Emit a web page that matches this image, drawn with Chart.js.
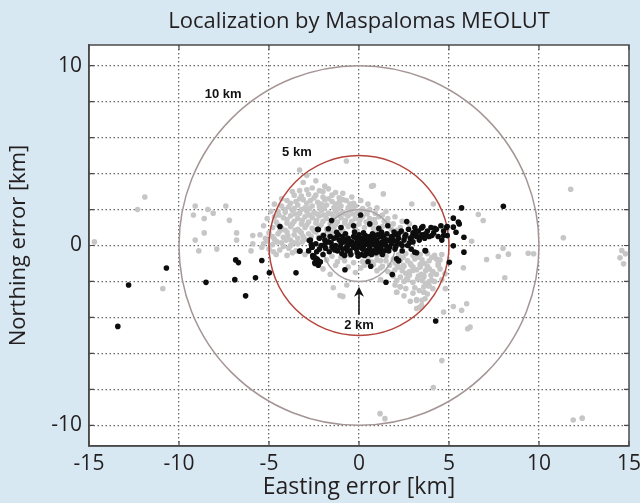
<!DOCTYPE html>
<html>
<head>
<meta charset="utf-8">
<script src="https://cdn.jsdelivr.net/npm/chart.js@4.4.1/dist/chart.umd.min.js"></script>
<style>
  html, body { margin: 0; padding: 0; background: #d8e8f2; }
  #wrap { width: 640px; height: 503px; }
</style>
</head>
<body>
<div id="wrap"><canvas id="chart" width="640" height="503"></canvas></div>
<script>
// axis ticks
var xTicks = [-15, -10, -5, 0, 5, 10, 15];
var yTicks = [-10, -8, -6, -4, -2, 0, 2, 4, 6, 8, 10];
var yLabelled = [-10, 0, 10];

// reference circles (km)
var circleRadii = [10, 5, 2];
var circleLabels = ['10 km', '5 km', '2 km'];
var circleLabelX = [-7.55, -3.45, 0];
var circleLabelY = [8.4, 5.15, -4.45];

// all positions from Maspalomas MEOLUT, [easting, northing] km
var allFixes = [
  [-11.9,2.7],[-12.3,2.0],[-14.7,0.2],[-10.9,-2.4],[-9.1,2.2],[-9.2,1.7],[-8.6,1.5],[-8.4,2.0],[-8.1,1.8],
  [-7.4,2.2],[-7.2,1.4],[-8.6,0.7],[-9.1,0.3],[-8.9,-0.3],[-7.9,-0.2],[-6.8,0.7],[-6.8,0.3],[-5.9,0.55],
  [-5.9,0.1],[-6.0,-0.3],[11.76,3.13],[11.35,0.43],[6.63,1.72],[6.9,1.39],[6.26,0.24],[7.09,-0.78],
  [7.74,-0.61],[8.3,-0.48],[8.0,-0.15],[9.4,-0.43],[9.7,-0.46],[5.8,-1.24],[8.1,-1.8],[5.98,-3.24],
  [6.17,-4.54],[6.04,-4.63],[4.7,-3.7],[14.6,-0.28],[14.5,-0.68],[14.7,-1.02],[14.8,-0.46],
  [11.9,-9.7],[12.4,-9.6],[1.17,-9.35],[1.44,-9.63],[4.13,-7.9],[4.6,-6.4],[-1.43,-2.35],[-0.9,-2.83],
  [3.2,-3.5],[3.48,-3.33],[3.67,-2.96],[3.6,-2.6],[2.28,-2.3],[2.46,-1.1],[3.0,-1.39],[3.4,-1.2],
  [3.6,-1.67],[4.04,-1.94],[4.4,-1.11],[4.5,-1.3],[3.85,-2.22],[2.09,-2.6],[3.2,-3.06],[3.36,-3.43],
  [5.24,-3.39],[5.7,-3.6],[4.78,-1.57],[2.65,-1.85],[-1.06,-2.78],[-0.68,-2.2],[1.35,2.87],[0.8,3.33],
  [2.93,2.31],[4.13,2.31],[-0.7,4.7],[0.7,3.3],[-3.3,4.2],[-2.9,3.9],[-2.4,3.6],[-1.9,3.3],[-3.1,3.5],
  [-2.9,3.1],[-2.6,3.2],[-2.2,3.05],[-1.7,3.15],
  [-3.6,2.8],[-3.2,2.75],[-2.8,2.85],[-2.4,2.8],[-2.0,2.7],[-1.5,2.8],[-1.1,2.65],
  [-4.0,2.5],[-3.5,2.45],[-3.1,2.55],[-2.7,2.5],[-2.3,2.4],[-1.9,2.55],[-1.5,2.45],[-1.1,2.4],[-0.7,2.5],[-0.3,2.35],
  [-4.3,2.2],[-3.9,2.15],[-3.4,2.25],[-3.0,2.1],[-2.6,2.2],[-2.2,2.15],[-1.8,2.25],[-1.4,2.1],[-1.0,2.2],[-0.6,2.1],[-0.2,2.2],[0.2,2.05],
  [-4.5,1.9],[-4.1,1.85],[-3.7,1.95],[-3.3,1.8],[-2.9,1.9],[-2.5,1.85],[-2.1,1.95],[-1.7,1.8],[-1.3,1.9],[-0.9,1.85],[-0.5,1.95],[-0.1,1.8],[0.4,1.9],[0.9,1.8],
  [-4.7,1.6],[-4.2,1.55],[-3.8,1.65],[-3.4,1.5],[-3.0,1.6],[-2.6,1.55],[-2.2,1.65],[-1.8,1.5],[-1.4,1.6],[-1.0,1.55],[-0.6,1.65],[-0.2,1.5],[0.2,1.6],[0.6,1.5],[1.1,1.6],[1.6,1.5],
  [-4.6,1.3],[-4.0,1.25],[-3.6,1.35],[-3.2,1.2],[-2.8,1.3],[-2.4,1.25],[-2.0,1.35],[-1.6,1.2],[-1.2,1.3],[-0.8,1.25],[-0.4,1.35],[0.0,1.2],[0.4,1.3],[0.9,1.25],[1.4,1.35],[1.9,1.2],
  [-4.8,1.0],[-4.3,0.95],[-3.8,1.05],[-3.4,0.9],[-3.0,1.0],[-2.6,0.95],[-2.2,1.05],[-1.8,0.9],[-1.4,1.0],[-1.0,0.95],[-0.6,1.05],[-0.2,0.9],[0.3,1.0],[0.8,0.95],[1.3,1.05],[1.8,0.9],[2.3,1.0],
  [-5.0,0.7],[-4.5,0.65],[-4.0,0.75],[-3.6,0.6],[-3.2,0.7],[-2.8,0.65],[-2.4,0.75],[-2.0,0.6],[-1.5,0.7],[1.0,0.7],[2.5,0.65],
  [-5.2,0.4],[-4.7,0.35],[-4.2,0.45],[-3.8,0.3],[-3.4,0.4],[-3.0,0.35],
  [-5.3,0.1],[-4.8,0.05],[-4.3,0.15],[-3.8,0.0],[-3.4,0.1],
  [-5.0,-0.2],[-4.4,-0.25],[-3.9,-0.15],[-3.5,-0.3],[-4.6,-0.5],[-4.0,-0.55],[-3.0,-0.5],
  [-3.8,2.35],[-3.3,2.6],[-2.9,2.35],[-2.5,2.65],[-2.1,2.3],[-1.7,2.6],[-1.3,2.3],[-0.9,2.55],[-0.5,2.3],
  [-4.1,2.0],[-3.6,2.05],[-3.2,2.0],[-2.75,2.05],[-2.35,1.75],[-1.95,2.05],[-1.55,1.75],[-1.15,2.05],[-0.75,1.75],[-0.35,2.05],[0.1,1.95],
  [-4.45,1.7],[-4.0,1.45],[-3.55,1.75],[-3.15,1.4],[-2.75,1.7],[-2.35,1.4],[-1.95,1.7],[-1.55,1.4],[-1.15,1.75],[-0.75,1.4],[-0.35,1.75],[0.05,1.4],[0.45,1.75],[0.85,1.45],[1.3,1.7],
  [-4.5,1.15],[-4.1,0.85],[-3.7,1.2],[-3.3,0.8],[-2.9,1.15],[-2.5,0.8],[-2.1,1.15],[-1.7,0.8],[-1.3,1.15],[-0.9,0.8],[-0.5,1.15],[-0.1,0.75],[0.6,1.15],[1.1,0.8],[1.6,1.25],[2.1,0.85],
  [-4.8,0.5],[-4.4,0.8],[-3.95,0.55],[-3.55,0.85],[-3.1,0.5],[-2.65,0.5],[-2.25,0.45],[-1.75,0.5],[-5.1,0.25],[-4.55,0.2],[-4.05,0.3],[-3.6,0.15],[-3.15,0.2],
  [-4.75,-0.35],[-4.2,-0.05],[-3.7,-0.4],[-5.4,-0.1],[-5.5,0.6],[-5.3,1.1],[-5.1,1.5],
  [-3.7,3.0],[-3.3,3.05],[-2.0,3.0],[-1.3,2.95],[-0.9,2.9],[-0.4,2.7],[0.1,2.5],[0.5,2.3],[-4.3,2.6],[-4.7,2.3],[-4.9,1.9],
  [0.6,2.0],[1.0,2.1],[1.5,1.9],[2.0,1.6],[2.4,1.35],[2.8,1.2],
  [2.2,-0.5],[2.6,-0.45],[3.0,-0.55],[3.4,-0.5],[3.8,-0.45],[4.2,-0.55],[4.6,-0.5],
  [1.0,-0.8],[1.5,-0.85],[1.9,-0.75],[2.3,-0.8],[2.7,-0.85],[3.1,-0.75],[3.5,-0.8],[3.9,-0.85],[4.3,-0.75],
  [0.3,-1.1],[0.8,-1.05],[1.3,-1.15],[1.7,-1.1],[2.1,-1.05],[2.5,-1.15],[2.9,-1.1],[3.4,-1.05],[3.8,-1.15],[4.4,-1.0],
  [1.0,-1.4],[1.6,-1.45],[2.0,-1.35],[2.4,-1.4],[2.8,-1.45],[3.2,-1.35],[3.7,-1.4],[4.1,-1.45],
  [1.9,-1.7],[2.3,-1.75],[2.8,-1.65],[3.3,-1.7],[3.6,-1.75],[4.0,-1.65],
  [2.5,-2.0],[3.0,-2.05],[3.5,-1.95],[3.9,-2.0],[2.3,-2.3],[3.1,-2.35],[3.6,-2.3],[3.9,-2.25],
  [2.1,-2.6],[3.0,-2.65],[3.6,-2.6],[3.2,-3.0],[3.5,-3.05],
  [2.0,-0.95],[2.45,-0.65],[2.85,-1.0],[3.25,-0.65],[3.65,-1.0],[4.05,-0.65],[4.5,-0.8],[1.2,-1.25],
  [1.8,-1.55],[2.2,-1.2],[2.6,-1.55],[3.0,-1.2],[3.45,-1.6],[3.9,-1.3],[4.3,-1.6],[2.1,-1.95],[2.7,-1.9],
  [3.25,-1.85],[3.7,-2.1],[4.2,-2.0],[2.6,-2.4],[3.35,-2.5],[2.5,-2.8],[3.8,-2.7],[4.1,-2.4],[2.85,-3.1],
  [2.0,-2.2],[4.6,-1.9],[4.8,-2.4],
  [-1.5,-0.6],[-1.0,-0.65],[-0.5,-0.55],[0.0,-0.6],[0.5,-0.65],[1.0,-0.55],[1.5,-0.6],
  [-1.2,-0.9],[-0.3,-0.95],[0.2,-0.9],[-2.0,-1.3],[-1.6,-1.6],[-0.2,-1.5],[1.2,-1.9],
  [-1.8,-0.8],[-0.8,-0.85],[0.7,-0.9],[1.2,-0.85],[-1.3,-1.1],[-0.6,-1.2],[0.1,-1.25]
];

// positions with best quality, [easting, northing] km
var goodFixes = [
  [-13.4,-4.5],[-12.8,-2.2],[-10.7,-1.25],[-8.5,-2.05],[-6.85,-0.8],[-6.7,-0.95],[-6.9,-1.9],[-6.3,-2.8],
  [-5.75,-1.8],[-5.4,-0.83],[-4.98,-1.52],[-4.39,1.06],[-3.5,-1.52],[-3.3,-0.32],[-2.26,0.89],[-1.52,1.39],
  [0.09,1.7],[-0.78,-1.35],[0.65,-1.15],[1.5,-2.04],[1.85,-1.61],[2.09,-0.74],[4.26,-4.2],[5.02,-0.93],
  [5.7,2.09],[8.02,2.18],[5.83,-0.37],[5.52,1.3],[5.24,1.02],[5.39,0.74],[5.24,1.52],[5.57,1.2],
  [4.9,1.05],[5.83,0.46],[4.7,0.55],[5.24,-0.02],[2.65,1.33],[3.48,0.98],[3.1,-0.37],[3.67,-0.28],
  [2.19,-0.83],[-2.57,-0.56],[-2.35,-0.74],[-2.17,-0.93],[-2.44,-1.0],[-2.26,-1.1],[-3.28,-0.31],
  [-2.76,0.28],[-2.63,-0.09],[-1.98,0.56],[-1.7,0.93],[-1.24,0.74],
  [-1.7,0.2],[-1.5,-0.1],[-1.4,0.4],[-1.3,0.0],[-1.2,-0.3],[-1.1,0.3],[-1.0,0.1],[-0.9,-0.2],[-0.9,0.5],
  [-0.8,0.2],[-0.7,-0.1],[-0.6,0.4],[-0.6,0.0],[-0.5,-0.3],[-0.4,0.2],[-0.3,0.5],[-0.3,-0.1],[-0.2,0.1],
  [-0.1,-0.4],[-0.1,0.3],[0.0,0.0],[0.0,0.6],[0.1,0.2],[0.2,-0.2],[0.2,0.4],[0.3,0.0],[0.4,0.3],[0.4,-0.3],
  [0.5,0.1],[0.6,0.5],[0.6,-0.1],[0.7,0.2],[0.8,-0.3],[0.8,0.4],[0.9,0.0],[1.0,0.3],[1.0,-0.2],[1.1,0.1],
  [1.2,0.5],[1.2,-0.1],[1.3,0.2],[1.4,-0.3],[1.4,0.4],[1.5,0.0],[1.6,0.3],[1.7,-0.1],[1.8,0.5],[1.8,0.1],
  [1.9,0.3],[2.0,-0.2],[2.0,0.6],[2.1,0.2],
  [-1.6,0.5],[-1.35,-0.25],[-1.15,0.6],[-0.95,-0.45],[-0.75,0.65],[-0.55,0.25],[-0.45,-0.5],[-0.25,0.75],
  [-0.15,-0.2],[0.05,0.35],[0.15,-0.5],[0.25,0.7],[0.35,0.15],[0.45,-0.45],[0.55,0.3],[0.7,-0.5],
  [0.75,0.65],[0.85,0.1],[0.95,-0.4],[1.05,0.6],[1.15,-0.35],[1.25,0.75],[1.35,0.05],[1.55,0.65],
  [1.65,-0.3],[1.75,0.25],[1.95,0.75],[2.05,-0.05],
  [-2.8,-0.3],[-2.7,0.3],[-2.6,-0.1],[-2.5,-0.6],[-2.4,0.1],[-2.3,-0.8],[-2.2,0.4],[-2.2,-0.2],[-2.1,0.0],
  [-2.0,-0.5],[-1.9,0.3],[-1.85,-0.15],[-2.45,-0.95],[-2.15,-0.9],[-2.55,-0.65],
  [2.2,0.4],[2.3,0.1],[2.35,0.8],[2.5,0.3],[2.6,0.6],[2.7,0.0],[2.75,0.9],[2.85,0.4],[3.0,0.7],[3.0,0.2],
  [3.1,1.0],[3.2,0.5],[3.3,0.8],[3.35,0.3],[3.5,0.6],[3.55,1.05],[3.65,0.4],[3.8,0.8],[3.9,0.5],[4.0,1.0],
  [4.15,0.7],[4.3,0.9],[4.4,0.5],[4.55,1.1],[4.7,0.8],[4.85,1.0],[4.9,0.55],[2.4,-0.3],[2.9,-0.2],
  [3.2,-0.4],[3.7,-0.3],[4.6,0.3],
  [-2.3,0.9],[-1.0,1.0],[-0.3,1.1],[0.6,1.2],[1.1,0.95],[1.6,1.1],[0.5,-0.9],[2.2,-0.85],
  [-1.55,0.15],[-1.25,0.45],[-1.05,-0.1],[-0.85,0.35],[-0.65,-0.3],[-0.35,0.05],[-0.2,0.45],[0.1,-0.1],
  [0.35,0.55],[0.55,-0.25],[0.65,0.05],[0.9,0.55],[1.1,-0.05],[1.3,0.55],[1.45,0.2],[1.6,-0.15],
  [1.85,0.35],[2.2,0.65],[2.4,0.0],[2.55,0.5],[2.8,0.15],[2.95,0.5],[3.15,0.75],[3.4,0.5],[3.7,0.65],
  [4.05,0.55],[4.2,0.95],[-0.05,-0.6],[0.3,-0.55],[-0.8,-0.55],[1.3,-0.5],[-1.9,0.05],[-2.35,-0.35],
  [-2.65,0.05],[-1.65,-0.35]
];

var font = 'Open Sans';
var textColor = '#231f20';

// white plot area, frame and inward ticks
var frame = {
  id: 'frame',
  beforeDraw: function(chart) {
    var a = chart.chartArea, c = chart.ctx;
    c.save();
    c.fillStyle = '#ffffff';
    c.fillRect(a.left, a.top, a.right - a.left, a.bottom - a.top);
    c.restore();
  },
  beforeDatasetsDraw: function(chart) {
    var a = chart.chartArea, c = chart.ctx;
    var xs = chart.scales.x, ys = chart.scales.y;
    c.save();
    c.strokeStyle = '#4a4a4a';
    c.lineWidth = 1.5;
    c.strokeRect(a.left, a.top, a.right - a.left, a.bottom - a.top);
    c.lineWidth = 1.2;
    c.beginPath();
    yTicks.forEach(function(v) {
      var p = ys.getPixelForValue(v);
      c.moveTo(a.left, p); c.lineTo(a.left + 5, p);
      c.moveTo(a.right, p); c.lineTo(a.right - 5, p);
    });
    xTicks.forEach(function(v) {
      var p = xs.getPixelForValue(v);
      c.moveTo(p, a.bottom); c.lineTo(p, a.bottom - 5);
      c.moveTo(p, a.top); c.lineTo(p, a.top + 5);
    });
    c.stroke();
    c.restore();
  }
};

var circleColors = ['#a59595', '#b5453d', '#a8a2a2'];

var rings = {
  id: 'rings',
  afterDatasetDraw: function(chart, args) {
    if (args.index !== 1) return;
    var c = chart.ctx, xs = chart.scales.x, ys = chart.scales.y;
    var cx = xs.getPixelForValue(0), cy = ys.getPixelForValue(0);
    c.save();
    c.lineWidth = 1.5;
    circleRadii.forEach(function(r, i) {
      var rx = xs.getPixelForValue(r) - cx;
      var ry = cy - ys.getPixelForValue(r);
      c.strokeStyle = circleColors[i];
      c.beginPath();
      c.ellipse(cx, cy, rx, ry, 0, 0, Math.PI * 2);
      c.stroke();
    });
    c.restore();
  },
  afterDraw: function(chart) {
    var c = chart.ctx, xs = chart.scales.x, ys = chart.scales.y;
    c.save();
    c.fillStyle = '#111';
    c.font = 'bold 13px "Liberation Sans", Arial, sans-serif';
    c.textAlign = 'center';
    c.textBaseline = 'middle';
    circleLabels.forEach(function(t, i) {
      c.fillText(t, xs.getPixelForValue(circleLabelX[i]), ys.getPixelForValue(circleLabelY[i]));
    });
    // arrow pointing at the 2 km ring
    var ax = xs.getPixelForValue(0);
    var y0 = ys.getPixelForValue(-3.85), y1 = ys.getPixelForValue(-2.3);
    c.strokeStyle = '#111';
    c.lineWidth = 1.5;
    c.beginPath();
    c.moveTo(ax, y0); c.lineTo(ax, y1 + 6);
    c.stroke();
    c.beginPath();
    c.moveTo(ax, y1);
    c.lineTo(ax - 5, y1 + 10);
    c.lineTo(ax, y1 + 7);
    c.lineTo(ax + 5, y1 + 10);
    c.closePath();
    c.fill();
    c.restore();
  }
};

function toPoints(arr) {
  return arr.map(function(p) { return {x: p[0], y: p[1]}; });
}

function noSidePadding(s) {
  s.paddingLeft = 0;
  s.paddingRight = 0;
}

new Chart(document.getElementById('chart'), {
  type: 'scatter',
  data: {
    datasets: [
      {
        label: 'best',
        data: toPoints(goodFixes),
        order: 0,
        pointRadius: 2.8,
        pointBorderWidth: 0,
        pointBackgroundColor: '#0d0d0d'
      },
      {
        label: 'all',
        data: toPoints(allFixes),
        order: 1,
        pointRadius: 2.8,
        pointBorderWidth: 0,
        pointBackgroundColor: '#c6c6c6'
      }
    ]
  },
  options: {
    responsive: false,
    animation: false,
    devicePixelRatio: 1,
    layout: { padding: { left: 0, right: 11, top: 0, bottom: 0 } },
    plugins: {
      legend: { display: false },
      tooltip: { enabled: false },
      title: { display: false }
    },
    scales: {
      top: {
        type: 'linear',
        position: 'top',
        min: -15, max: 15,
        afterFit: function(s) { s.height = 45; noSidePadding(s); },
        grid: { display: false, drawTicks: false },
        border: { display: false },
        ticks: { display: false },
        title: {
          display: true, text: 'Localization by Maspalomas MEOLUT', color: textColor,
          font: { family: font, size: 22, lineHeight: 1.2 }, padding: { top: 9, bottom: 0 }
        }
      },
      x: {
        type: 'linear',
        position: 'bottom',
        min: -15, max: 15,
        afterFit: function(s) { s.height = 57; noSidePadding(s); },
        afterBuildTicks: function(s) { s.ticks = xTicks.map(function(v) { return {value: v}; }); },
        grid: {
          drawTicks: false,
          lineWidth: 1.3,
          color: function(ctx) { return Math.abs(ctx.tick.value) === 15 ? 'rgba(0,0,0,0)' : '#6a6a6a'; }
        },
        border: { display: true, color: '#4a4a4a', width: 1.5, dash: [1.5, 2.5] },
        ticks: { color: textColor, padding: 5, maxRotation: 0, font: { family: font, size: 21 } },
        title: {
          display: true, text: 'Easting error [km]', color: textColor,
          font: { family: font, size: 23, lineHeight: 1.2 }, padding: { top: 0, bottom: 2 }
        }
      },
      y: {
        type: 'linear',
        min: -11.15, max: 11.15,
        afterFit: function(s) { s.width = 89; },
        afterBuildTicks: function(s) { s.ticks = yTicks.map(function(v) { return {value: v}; }); },
        grid: { drawTicks: false, lineWidth: 1.3, color: '#6a6a6a' },
        border: { display: true, color: '#4a4a4a', width: 1.5, dash: [1.5, 2.5] },
        ticks: {
          color: textColor, padding: 7, font: { family: font, size: 21 },
          callback: function(v) { return yLabelled.indexOf(v) >= 0 ? String(v) : ''; }
        },
        title: {
          display: true, text: 'Northing error [km]', color: textColor,
          font: { family: font, size: 22, lineHeight: 1.2 }, padding: { top: 6, bottom: 0 }
        }
      }
    }
  },
  plugins: [frame, rings]
});
</script>
</body>
</html>
